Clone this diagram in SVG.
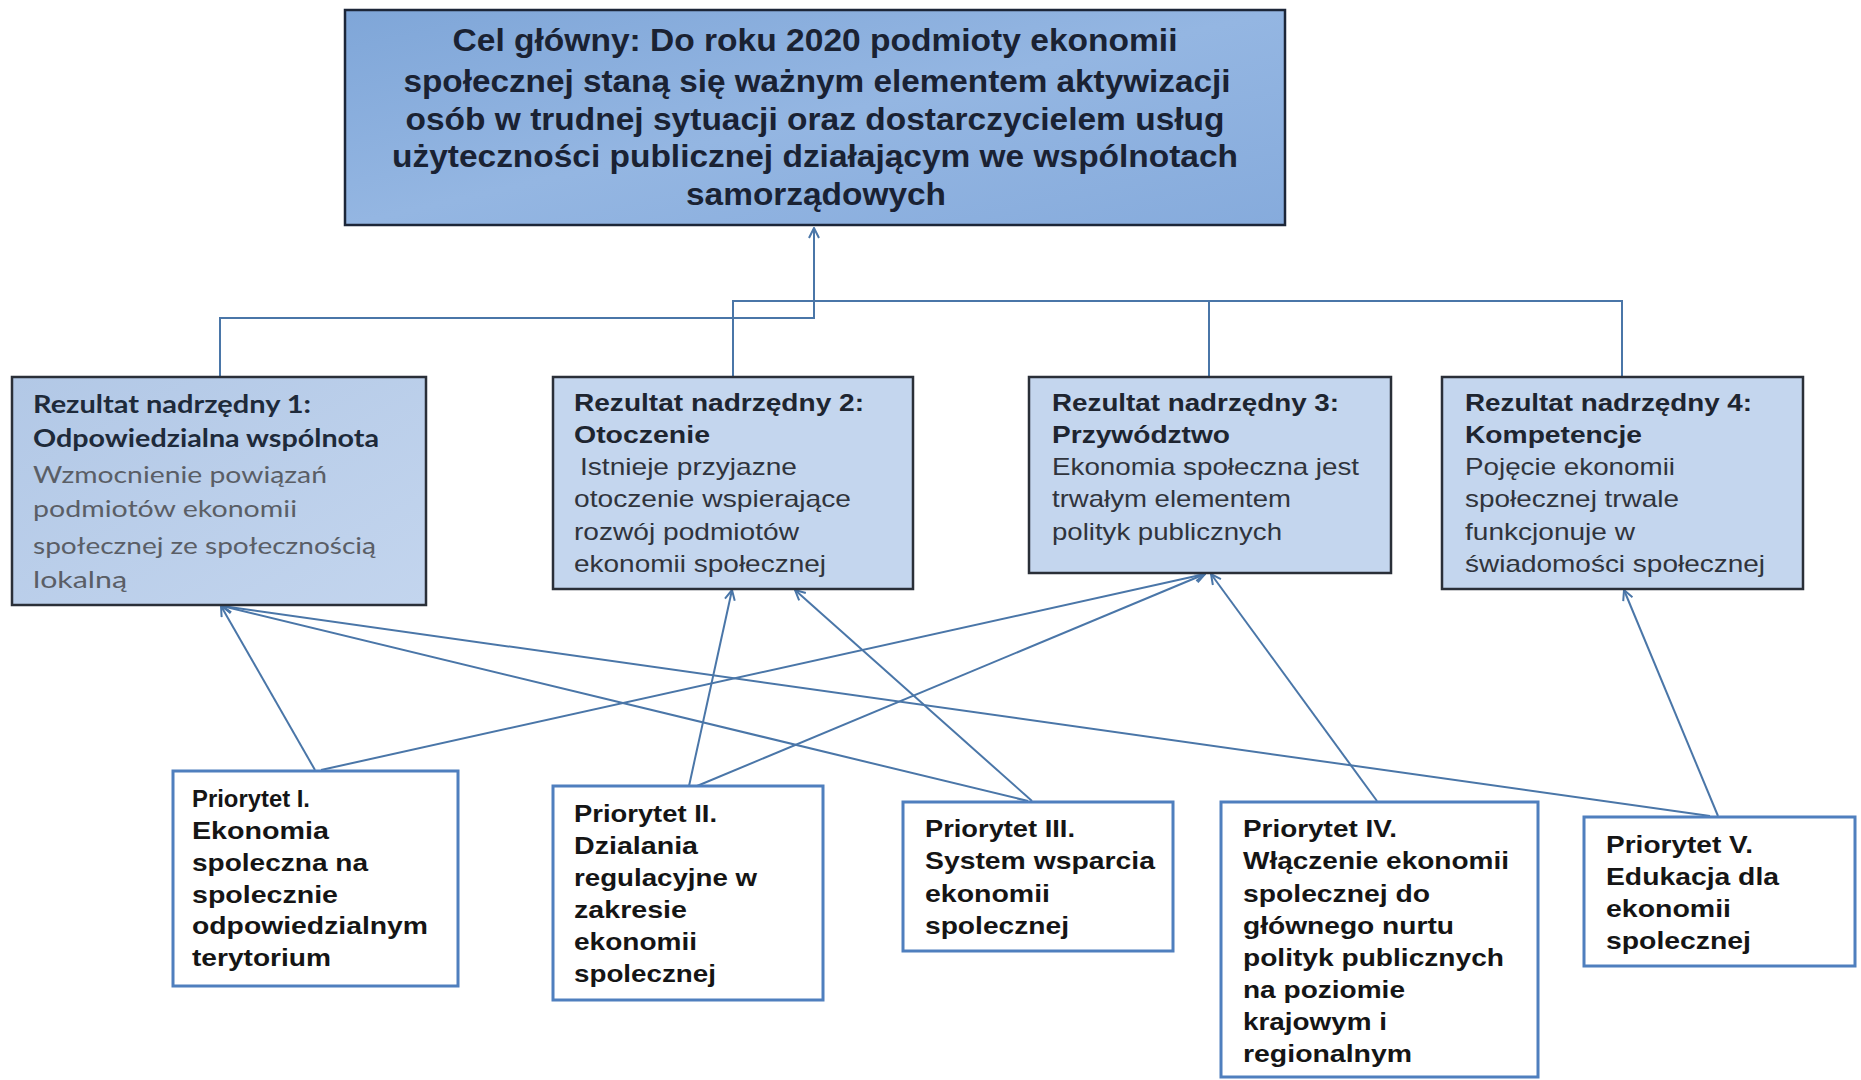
<svg xmlns="http://www.w3.org/2000/svg" width="1861" height="1080" viewBox="0 0 1861 1080">
<defs>
<linearGradient id="gTop" x1="0" y1="0" x2="1" y2="1">
<stop offset="0" stop-color="#7FA6D8"/>
<stop offset="0.5" stop-color="#94B6E2"/>
<stop offset="1" stop-color="#86ABDC"/>
</linearGradient>
<linearGradient id="gRez1" x1="0" y1="0" x2="1" y2="1">
<stop offset="0" stop-color="#B2C8E6"/>
<stop offset="1" stop-color="#C3D5EE"/>
</linearGradient>
<marker id="arr" viewBox="0 0 12 12" refX="11" refY="6" markerWidth="12" markerHeight="12" markerUnits="userSpaceOnUse" orient="auto">
<path d="M1,1 L11,6 L1,11" fill="none" stroke="#4A76A8" stroke-width="2"/>
</marker>
<style>
.top{fill:url(#gTop);stroke:#1C2638;stroke-width:2.5}
.rez{fill:#C4D6EE;stroke:#2A2F38;stroke-width:2.5}
.pri{fill:#FFFFFF;stroke:#4F7FBE;stroke-width:3}
.conn{fill:none;stroke:#4A76A8;stroke-width:2}
.tt{font-family:"Liberation Sans",Arial,sans-serif;font-weight:bold;font-size:31px;fill:#1A2233}
.rb1{font-family:Lato,"Open Sans",sans-serif;font-weight:bold;font-size:24px;fill:#1E2A3A}
.rr1{font-family:Lato,"Open Sans",sans-serif;font-size:24px;fill:#5A5E66}
.rb{font-family:"Liberation Sans",Arial,sans-serif;font-weight:bold;font-size:24px;fill:#1E2530}
.rr{font-family:"Liberation Sans",Arial,sans-serif;font-size:24px;fill:#30343C}
.pt{font-family:"Liberation Sans",Arial,sans-serif;font-weight:bold;font-size:24px;fill:#151515}
</style>
</defs>
<rect width="1861" height="1080" fill="#FFFFFF"/>

<g id="connectors">
<path class="conn" d="M220,377 V318 H814 V228" marker-end="url(#arr)"/>
<path class="conn" d="M733,377 V301 H1622 V377"/>
<path class="conn" d="M1209,301 V377"/>
<line class="conn" x1="315" y1="770" x2="221" y2="606" marker-end="url(#arr)"/>
<line class="conn" x1="321" y1="770" x2="1205" y2="574" marker-end="url(#arr)"/>
<line class="conn" x1="689" y1="786" x2="732" y2="590" marker-end="url(#arr)"/>
<line class="conn" x1="697" y1="786" x2="1205" y2="574" marker-end="url(#arr)"/>
<line class="conn" x1="1032" y1="801" x2="795" y2="590" marker-end="url(#arr)"/>
<line class="conn" x1="1028" y1="801" x2="222" y2="606" marker-end="url(#arr)"/>
<line class="conn" x1="1377" y1="801" x2="1211" y2="574" marker-end="url(#arr)"/>
<line class="conn" x1="1718" y1="816" x2="1624" y2="590" marker-end="url(#arr)"/>
<line class="conn" x1="1710" y1="816" x2="222" y2="606" marker-end="url(#arr)"/>
</g>

<g id="cel-glowny">
<rect class="top" x="345" y="10" width="940" height="215"/>
<text class="tt" text-anchor="middle" x="815" y="51" textLength="725" lengthAdjust="spacingAndGlyphs">Cel główny: Do roku 2020 podmioty ekonomii</text>
<text class="tt" text-anchor="middle" x="817" y="92" textLength="827" lengthAdjust="spacingAndGlyphs">społecznej staną się ważnym elementem aktywizacji</text>
<text class="tt" text-anchor="middle" x="815" y="130" textLength="819" lengthAdjust="spacingAndGlyphs">osób w trudnej sytuacji oraz dostarczycielem usług</text>
<text class="tt" text-anchor="middle" x="815" y="167" textLength="846" lengthAdjust="spacingAndGlyphs">użyteczności publicznej działającym we wspólnotach</text>
<text class="tt" text-anchor="middle" x="816" y="205" textLength="260" lengthAdjust="spacingAndGlyphs">samorządowych</text>
</g>

<g id="rezultat-1">
<rect x="12" y="377" width="414" height="228" fill="url(#gRez1)" stroke="#2A2F38" stroke-width="2.5"/>
<text class="rb1" x="33" y="413" textLength="278" lengthAdjust="spacingAndGlyphs">Rezultat nadrzędny 1:</text>
<text class="rb1" x="33" y="447" textLength="346" lengthAdjust="spacingAndGlyphs">Odpowiedzialna wspólnota</text>
<text class="rr1" x="33" y="483" textLength="294" lengthAdjust="spacingAndGlyphs">Wzmocnienie powiązań</text>
<text class="rr1" x="33" y="517" textLength="264" lengthAdjust="spacingAndGlyphs">podmiotów ekonomii</text>
<text class="rr1" x="33" y="554" textLength="343" lengthAdjust="spacingAndGlyphs">społecznej ze społecznością</text>
<text class="rr1" x="33" y="588" textLength="94" lengthAdjust="spacingAndGlyphs">lokalną</text>
</g>

<g id="rezultat-2">
<rect class="rez" x="553" y="377" width="360" height="212"/>
<text class="rb" x="574" y="411" textLength="290" lengthAdjust="spacingAndGlyphs">Rezultat nadrzędny 2:</text>
<text class="rb" x="574" y="443" textLength="136" lengthAdjust="spacingAndGlyphs">Otoczenie</text>
<text class="rr" x="580" y="475" textLength="217" lengthAdjust="spacingAndGlyphs">Istnieje przyjazne</text>
<text class="rr" x="574" y="507" textLength="277" lengthAdjust="spacingAndGlyphs">otoczenie wspierające</text>
<text class="rr" x="574" y="540" textLength="225" lengthAdjust="spacingAndGlyphs">rozwój podmiotów</text>
<text class="rr" x="574" y="572" textLength="252" lengthAdjust="spacingAndGlyphs">ekonomii społecznej</text>
</g>

<g id="rezultat-3">
<rect class="rez" x="1029" y="377" width="362" height="196"/>
<text class="rb" x="1052" y="411" textLength="287" lengthAdjust="spacingAndGlyphs">Rezultat nadrzędny 3:</text>
<text class="rb" x="1052" y="443" textLength="178" lengthAdjust="spacingAndGlyphs">Przywództwo</text>
<text class="rr" x="1052" y="475" textLength="307" lengthAdjust="spacingAndGlyphs">Ekonomia społeczna jest</text>
<text class="rr" x="1052" y="507" textLength="239" lengthAdjust="spacingAndGlyphs">trwałym elementem</text>
<text class="rr" x="1052" y="540" textLength="230" lengthAdjust="spacingAndGlyphs">polityk publicznych</text>
</g>

<g id="rezultat-4">
<rect class="rez" x="1442" y="377" width="361" height="212"/>
<text class="rb" x="1465" y="411" textLength="287" lengthAdjust="spacingAndGlyphs">Rezultat nadrzędny 4:</text>
<text class="rb" x="1465" y="443" textLength="177" lengthAdjust="spacingAndGlyphs">Kompetencje</text>
<text class="rr" x="1465" y="475" textLength="210" lengthAdjust="spacingAndGlyphs">Pojęcie ekonomii</text>
<text class="rr" x="1465" y="507" textLength="214" lengthAdjust="spacingAndGlyphs">społecznej trwale</text>
<text class="rr" x="1465" y="540" textLength="170" lengthAdjust="spacingAndGlyphs">funkcjonuje w</text>
<text class="rr" x="1465" y="572" textLength="300" lengthAdjust="spacingAndGlyphs">świadomości społecznej</text>
</g>

<g id="priorytet-1">
<rect class="pri" x="173" y="771" width="285" height="215"/>
<text class="pt" x="192" y="807" textLength="118" lengthAdjust="spacingAndGlyphs">Priorytet I.</text>
<text class="pt" x="192" y="839" textLength="137" lengthAdjust="spacingAndGlyphs">Ekonomia</text>
<text class="pt" x="192" y="871" textLength="176" lengthAdjust="spacingAndGlyphs">spoleczna na</text>
<text class="pt" x="192" y="903" textLength="146" lengthAdjust="spacingAndGlyphs">spolecznie</text>
<text class="pt" x="192" y="934" textLength="236" lengthAdjust="spacingAndGlyphs">odpowiedzialnym</text>
<text class="pt" x="192" y="966" textLength="139" lengthAdjust="spacingAndGlyphs">terytorium</text>
</g>

<g id="priorytet-2">
<rect class="pri" x="553" y="786" width="270" height="214"/>
<text class="pt" x="574" y="822" textLength="143" lengthAdjust="spacingAndGlyphs">Priorytet II.</text>
<text class="pt" x="574" y="854" textLength="124" lengthAdjust="spacingAndGlyphs">Dzialania</text>
<text class="pt" x="574" y="886" textLength="183" lengthAdjust="spacingAndGlyphs">regulacyjne w</text>
<text class="pt" x="574" y="918" textLength="113" lengthAdjust="spacingAndGlyphs">zakresie</text>
<text class="pt" x="574" y="950" textLength="123" lengthAdjust="spacingAndGlyphs">ekonomii</text>
<text class="pt" x="574" y="982" textLength="142" lengthAdjust="spacingAndGlyphs">spolecznej</text>
</g>

<g id="priorytet-3">
<rect class="pri" x="903" y="802" width="270" height="149"/>
<text class="pt" x="925" y="837" textLength="150" lengthAdjust="spacingAndGlyphs">Priorytet III.</text>
<text class="pt" x="925" y="869" textLength="230" lengthAdjust="spacingAndGlyphs">System wsparcia</text>
<text class="pt" x="925" y="902" textLength="125" lengthAdjust="spacingAndGlyphs">ekonomii</text>
<text class="pt" x="925" y="934" textLength="144" lengthAdjust="spacingAndGlyphs">spolecznej</text>
</g>

<g id="priorytet-4">
<rect class="pri" x="1221" y="802" width="317" height="275"/>
<text class="pt" x="1243" y="837" textLength="154" lengthAdjust="spacingAndGlyphs">Priorytet IV.</text>
<text class="pt" x="1243" y="869" textLength="266" lengthAdjust="spacingAndGlyphs">Włączenie ekonomii</text>
<text class="pt" x="1243" y="902" textLength="187" lengthAdjust="spacingAndGlyphs">spolecznej do</text>
<text class="pt" x="1243" y="934" textLength="211" lengthAdjust="spacingAndGlyphs">głównego nurtu</text>
<text class="pt" x="1243" y="966" textLength="261" lengthAdjust="spacingAndGlyphs">polityk publicznych</text>
<text class="pt" x="1243" y="998" textLength="162" lengthAdjust="spacingAndGlyphs">na poziomie</text>
<text class="pt" x="1243" y="1030" textLength="144" lengthAdjust="spacingAndGlyphs">krajowym i</text>
<text class="pt" x="1243" y="1062" textLength="169" lengthAdjust="spacingAndGlyphs">regionalnym</text>
</g>

<g id="priorytet-5">
<rect class="pri" x="1584" y="817" width="271" height="149"/>
<text class="pt" x="1606" y="853" textLength="147" lengthAdjust="spacingAndGlyphs">Priorytet V.</text>
<text class="pt" x="1606" y="885" textLength="173" lengthAdjust="spacingAndGlyphs">Edukacja dla</text>
<text class="pt" x="1606" y="917" textLength="125" lengthAdjust="spacingAndGlyphs">ekonomii</text>
<text class="pt" x="1606" y="949" textLength="145" lengthAdjust="spacingAndGlyphs">spolecznej</text>
</g>
</svg>
